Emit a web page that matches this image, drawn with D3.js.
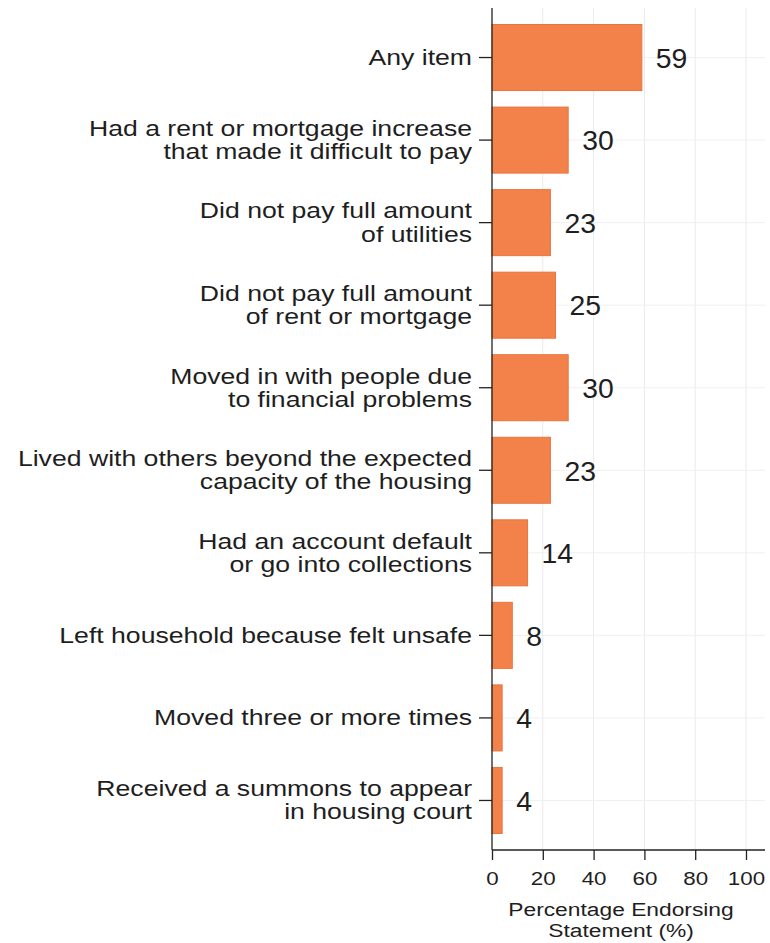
<!DOCTYPE html>
<html>
<head>
<meta charset="utf-8">
<script src="https://cdn.jsdelivr.net/npm/d3@7"></script>
<style>
  body { margin: 0; background: #fff; }
  svg { display: block; font-family: "Liberation Sans", Arial, sans-serif; }
</style>
</head>
<body>
<div id="chart"></div>
<script>
const width = 770;
const height = 943;
const margin = {top: 8, right: 5, bottom: 93, left: 492};

const barColour = "#f3824a";
const barStroke = "#e8763f";
const textColour = "#1e1e1e";
// the original picture is stretched sideways, so text is widened too
const labelStretch = 1.21;
const valueStretch = 1.05;
const axisStretch = 1.21;

// categories, top to bottom (each label split into its printed lines)
const categories = [
  ["Any item"],
  ["Had a rent or mortgage increase", "that made it difficult to pay"],
  ["Did not pay full amount", "of utilities"],
  ["Did not pay full amount", "of rent or mortgage"],
  ["Moved in with people due", "to financial problems"],
  ["Lived with others beyond the expected", "capacity of the housing"],
  ["Had an account default", "or go into collections"],
  ["Left household because felt unsafe"],
  ["Moved three or more times"],
  ["Received a summons to appear", "in housing court"]
];
const values = [59, 30, 23, 25, 30, 23, 14, 8, 4, 4];
const xTicks = [0, 20, 40, 60, 80, 100];
const xTitle = ["Percentage Endorsing", "Statement (%)"];

const data = categories.map((c, i) => ({key: c.join(" "), lines: c, value: values[i]}));

const svg = d3.select("#chart").append("svg")
  .attr("width", width)
  .attr("height", height);

const xScale = d3.scaleLinear()
  .domain([0, 100])
  .range([margin.left, 746]);

const yScale = d3.scaleBand()
  .domain(data.map(d => d.key))
  .range([margin.top, height - margin.bottom])
  .paddingInner(0.2)
  .paddingOuter(0.2);

const mid = d => yScale(d.key) + yScale.bandwidth() / 2;

// grid lines
svg.append("g")
  .selectAll("line.vgrid")
  .data(xTicks.filter(t => t > 0))
  .join("line")
  .attr("class", "vgrid")
  .attr("x1", d => xScale(d))
  .attr("x2", d => xScale(d))
  .attr("y1", margin.top)
  .attr("y2", height - margin.bottom)
  .attr("stroke", "#e9e9e9")
  .attr("stroke-width", 1);

svg.append("g")
  .selectAll("line.hgrid")
  .data(data)
  .join("line")
  .attr("class", "hgrid")
  .attr("x1", margin.left)
  .attr("x2", 765)
  .attr("y1", mid)
  .attr("y2", mid)
  .attr("stroke", "#f0f0f0")
  .attr("stroke-width", 1);

// bars
svg.append("g")
  .selectAll("rect")
  .data(data)
  .join("rect")
  .attr("x", xScale(0))
  .attr("y", d => yScale(d.key))
  .attr("width", d => xScale(d.value) - xScale(0))
  .attr("height", yScale.bandwidth())
  .attr("fill", barColour)
  .attr("stroke", barStroke)
  .attr("stroke-width", 1);

// value labels
svg.append("g")
  .selectAll("text")
  .data(data)
  .join("text")
  .attr("transform", d => `translate(${xScale(d.value) + 14},${mid(d)}) scale(${valueStretch},1)`)
  .attr("dy", "0.38em")
  .attr("font-size", "27px")
  .attr("fill", textColour)
  .text(d => d.value);

// y axis
const yAxis = g => g
  .attr("transform", `translate(${margin.left},0)`)
  .call(d3.axisLeft(yScale).tickSize(13).tickSizeOuter(0).tickFormat(""))
  .call(g => g.select(".domain").attr("stroke", "#222").attr("stroke-width", 1.3)
    .attr("d", `M0,${margin.top}V${height - margin.bottom}`))
  .call(g => g.selectAll(".tick line").attr("stroke", "#222").attr("stroke-width", 1.3));

svg.append("g").call(yAxis);

// multi-line category labels
svg.append("g")
  .selectAll("text")
  .data(data)
  .join("text")
  .attr("text-anchor", "end")
  .attr("font-size", "22px")
  .attr("fill", textColour)
  .attr("transform", d => `translate(${margin.left - 20},${mid(d)}) scale(${labelStretch},1)`)
  .each(function(d) {
    const n = d.lines.length;
    d3.select(this).selectAll("tspan")
      .data(d.lines)
      .join("tspan")
      .attr("x", 0)
      .attr("dy", (l, i) => i === 0 ? `${0.33 - (n - 1) * 0.52}em` : "1.05em")
      .text(l => l);
  });

// x axis
const xAxis = g => g
  .attr("transform", `translate(0,${height - margin.bottom})`)
  .call(d3.axisBottom(xScale).tickValues(xTicks).tickSize(10).tickSizeOuter(0))
  .call(g => g.select(".domain").attr("stroke", "#222").attr("stroke-width", 1.3)
    .attr("d", `M${margin.left},0H765`))
  .call(g => g.selectAll(".tick line").attr("stroke", "#222").attr("stroke-width", 1.3))
  .call(g => g.selectAll(".tick text")
    .attr("y", 0).attr("dy", 0)
    .attr("transform", `translate(0,35) scale(${axisStretch},1)`)
    .attr("font-size", "18.5px").attr("fill", textColour)
    .attr("font-family", "Liberation Sans, Arial, sans-serif"));

svg.append("g").call(xAxis);

// x axis title
svg.append("g")
  .attr("transform", `translate(${xScale(50) + 2},0)`)
  .selectAll("text")
  .data(xTitle)
  .join("text")
  .attr("text-anchor", "middle")
  .attr("font-size", "19px")
  .attr("fill", textColour)
  .attr("transform", (d, i) => `translate(0,${916 + i * 21}) scale(1.2,1)`)
  .text(d => d);
</script>
</body>
</html>
